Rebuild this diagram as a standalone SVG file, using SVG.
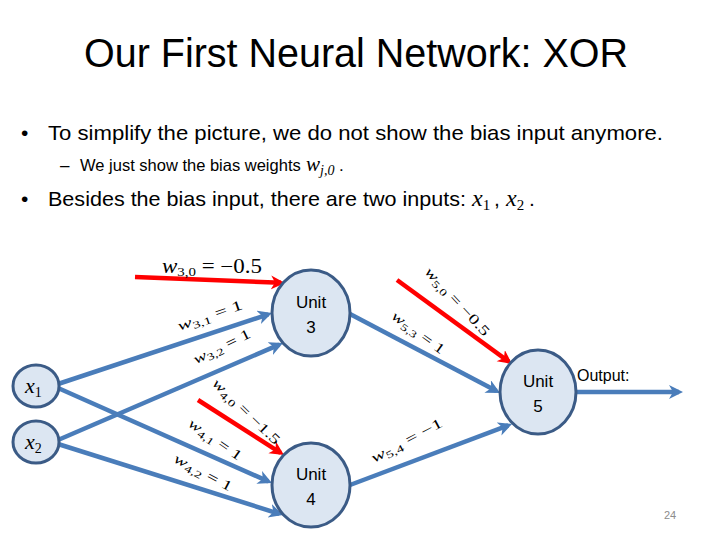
<svg xmlns="http://www.w3.org/2000/svg" width="720" height="540" viewBox="0 0 720 540">
<style>
.sans{font-family:"Liberation Sans","Open Sans",Arial,sans-serif;fill:#000}
.math{font-family:"Liberation Serif","DejaVu Serif",serif;fill:#000}
.node{fill:#dce6f2;stroke:#3b5b86;stroke-width:3}
.unit{font-family:"Liberation Sans","Open Sans",sans-serif;font-size:17px;fill:#000;text-anchor:middle}
.blue{stroke:#4a7dba;stroke-width:4.5;fill:none}
.red{stroke:#ff0000;stroke-width:4.5;fill:none}
.wl{font-family:"Liberation Serif","DejaVu Serif",serif;font-size:14px;fill:#000;text-anchor:middle}
</style>
<defs>
<marker id="ab" markerUnits="userSpaceOnUse" markerWidth="16" markerHeight="16" refX="10" refY="7" orient="auto"><path d="M0,0 L14,7 L0,14 L4,7 Z" fill="#4a7dba"/></marker>
<marker id="ar" markerUnits="userSpaceOnUse" markerWidth="16" markerHeight="16" refX="10" refY="7" orient="auto"><path d="M0,0 L14,7 L0,14 L4,7 Z" fill="#ff0000"/></marker>
</defs>
<rect width="720" height="540" fill="#fff"/>
<g id="title">
<text class="sans" x="84" y="67" font-size="40" textLength="544" lengthAdjust="spacingAndGlyphs">Our First Neural Network: XOR</text>
</g>
<g id="bullets">
<text class="sans" x="21" y="140" font-size="21">•</text>
<text class="sans" x="48" y="140" font-size="21" textLength="615" lengthAdjust="spacingAndGlyphs">To simplify the picture, we do not show the bias input anymore.</text>
<text class="sans" x="60" y="171" font-size="17">–</text>
<text class="sans" x="80" y="171" font-size="16.5">We just show the bias weights</text>
<text class="math" x="306" y="171" font-size="21" font-style="italic"><tspan>w</tspan><tspan font-size="14" dy="4"><tspan font-style="italic">j</tspan>,0</tspan></text>
<text class="sans" x="339" y="171" font-size="17">.</text>
<text class="sans" x="21" y="206" font-size="21">•</text>
<text class="sans" x="48" y="206" font-size="21" textLength="418" lengthAdjust="spacingAndGlyphs">Besides the bias input, there are two inputs:</text>
<text class="math" x="472" y="206" font-size="24" font-style="italic"><tspan>x</tspan><tspan font-size="15" font-style="normal" dy="4">1</tspan></text>
<text class="sans" x="494" y="206" font-size="21">,</text>
<text class="math" x="506" y="206" font-size="24" font-style="italic"><tspan>x</tspan><tspan font-size="15" font-style="normal" dy="4">2</tspan></text>
<text class="sans" x="529" y="206" font-size="21">.</text>
</g>
<g id="connectors">
<line class="blue" x1="58" y1="384" x2="268.2" y2="314.3" marker-end="url(#ab)"/>
<line class="blue" x1="58" y1="440" x2="279.3" y2="344.6" marker-end="url(#ab)"/>
<line class="blue" x1="58" y1="388" x2="268.3" y2="481.4" marker-end="url(#ab)"/>
<line class="blue" x1="58" y1="444" x2="279.2" y2="513.8" marker-end="url(#ab)"/>
<line class="red" x1="135" y1="277" x2="281" y2="282.8" marker-end="url(#ar)"/>
<line class="red" x1="397" y1="280" x2="508.8" y2="361.6" marker-end="url(#ar)"/>
<line class="red" x1="198" y1="400" x2="280.6" y2="452.8" marker-end="url(#ar)"/>
<line class="blue" x1="350" y1="314" x2="496.5" y2="391.1" marker-end="url(#ab)"/>
<line class="blue" x1="350" y1="485" x2="508.3" y2="425.4" marker-end="url(#ab)"/>
<line class="blue" x1="576" y1="392" x2="679" y2="392" marker-end="url(#ab)"/>
</g>
<g id="labels">
<text class="math" x="162" y="273" font-size="20" textLength="100" lengthAdjust="spacingAndGlyphs"><tspan font-style="italic">w</tspan><tspan font-size="13" dy="3">3,0</tspan><tspan dy="-3"> = −0.5</tspan></text>
<text class="wl" transform="translate(210,316) rotate(-19)" y="4" textLength="68" lengthAdjust="spacingAndGlyphs"><tspan font-style="italic">w</tspan><tspan font-size="10" dy="3">3,1</tspan><tspan dy="-3"> = 1</tspan></text>
<text class="wl" transform="translate(222,347) rotate(-26)" y="4" textLength="62" lengthAdjust="spacingAndGlyphs"><tspan font-style="italic">w</tspan><tspan font-size="10" dy="3">3,2</tspan><tspan dy="-3"> = 1</tspan></text>
<text class="wl" transform="translate(418,333) rotate(36)" y="4" textLength="62" lengthAdjust="spacingAndGlyphs"><tspan font-style="italic">w</tspan><tspan font-size="10" dy="3">5,3</tspan><tspan dy="-3"> = 1</tspan></text>
<text class="wl" transform="translate(457,302) rotate(47)" y="4" textLength="88" lengthAdjust="spacingAndGlyphs"><tspan font-style="italic">w</tspan><tspan font-size="10" dy="3">5,0</tspan><tspan dy="-3"> = −0.5</tspan></text>
<text class="wl" transform="translate(246,412) rotate(44)" y="4" textLength="88" lengthAdjust="spacingAndGlyphs"><tspan font-style="italic">w</tspan><tspan font-size="10" dy="3">4,0</tspan><tspan dy="-3"> = −1.5</tspan></text>
<text class="wl" transform="translate(215,440) rotate(35)" y="4" textLength="62" lengthAdjust="spacingAndGlyphs"><tspan font-style="italic">w</tspan><tspan font-size="10" dy="3">4,1</tspan><tspan dy="-3"> = 1</tspan></text>
<text class="wl" transform="translate(203,473) rotate(28)" y="4" textLength="64" lengthAdjust="spacingAndGlyphs"><tspan font-style="italic">w</tspan><tspan font-size="10" dy="3">4,2</tspan><tspan dy="-3"> = 1</tspan></text>
<text class="wl" transform="translate(407,441) rotate(-28)" y="4" textLength="79" lengthAdjust="spacingAndGlyphs"><tspan font-style="italic">w</tspan><tspan font-size="10" dy="3">5,4</tspan><tspan dy="-3"> = −1</tspan></text>
<text class="sans" x="577" y="381" font-size="16">Output:</text>
</g>
<g id="x1">
<ellipse class="node" cx="36" cy="386" rx="23" ry="21"/>
<text class="math" x="25" y="393" font-size="22" font-style="italic"><tspan>x</tspan><tspan font-size="14" font-style="normal" dy="4">1</tspan></text>
</g>
<g id="x2">
<ellipse class="node" cx="36" cy="442" rx="23" ry="21"/>
<text class="math" x="25" y="449" font-size="22" font-style="italic"><tspan>x</tspan><tspan font-size="14" font-style="normal" dy="4">2</tspan></text>
</g>
<g id="unit3">
<ellipse class="node" cx="311" cy="313" rx="39" ry="43"/>
<text class="unit" x="311" y="308">Unit</text>
<text class="unit" x="311" y="333">3</text>
</g>
<g id="unit4">
<ellipse class="node" cx="311" cy="485" rx="39" ry="42"/>
<text class="unit" x="311" y="480">Unit</text>
<text class="unit" x="311" y="505">4</text>
</g>
<g id="unit5">
<ellipse class="node" cx="538" cy="392" rx="38" ry="42"/>
<text class="unit" x="538" y="387">Unit</text>
<text class="unit" x="538" y="412">5</text>
</g>
<g id="pagenum">
<text class="sans" x="664" y="519" font-size="11" style="fill:#8c8c8c">24</text>
</g>
</svg>
